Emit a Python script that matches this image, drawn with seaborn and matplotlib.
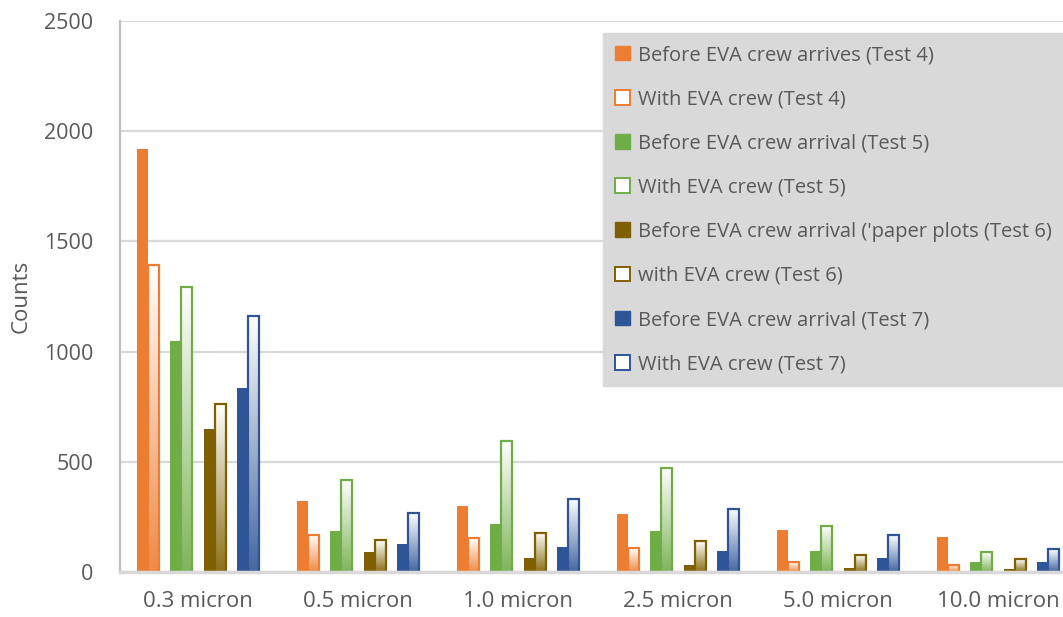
import numpy as np
import pandas as pd
import seaborn as sns
from matplotlib import pyplot as plt
from matplotlib.patches import Patch
from matplotlib.colors import to_rgb

sizes = ["0.3 micron", "0.5 micron", "1.0 micron", "2.5 micron", "5.0 micron", "10.0 micron"]
before_t4 = [1920, 324, 299, 262, 190, 160]
with_t4 = [1395, 166, 153, 107, 44, 32]
before_t5 = [1050, 186, 218, 185, 95, 44]
with_t5 = [1295, 416, 593, 472, 210, 89]
before_t6 = [650, 89, 62, 32, 20, 14]
with_t6 = [760, 145, 179, 139, 77, 58]
before_t7 = [835, 127, 115, 95, 64, 44]
with_t7 = [1160, 266, 331, 287, 166, 103]
empty = [0, 0, 0, 0, 0, 0]

# (label, values, colour, hollow); empty series keep Excel's gaps between pairs
series = [
    ("_gap0", empty, "#4472C4", False),
    ("Before EVA crew arrives (Test 4)", before_t4, "#ED7D31", False),
    ("With EVA crew (Test 4)", with_t4, "#ED7D31", True),
    ("_gap1", empty, "#A5A5A5", False),
    ("Before EVA crew arrival (Test 5)", before_t5, "#70AD47", False),
    ("With EVA crew (Test 5)", with_t5, "#70AD47", True),
    ("_gap2", empty, "#A5A5A5", False),
    ("Before EVA crew arrival ('paper plots (Test 6)", before_t6, "#7F6000", False),
    ("with EVA crew (Test 6)", with_t6, "#7F6000", True),
    ("_gap3", empty, "#5B9BD5", False),
    ("Before EVA crew arrival (Test 7)", before_t7, "#2F5597", False),
    ("With EVA crew (Test 7)", with_t7, "#2F5597", True),
    ("_gap4", empty, "#FFC000", False),
]

rows = []
for name, vals, col, hollow in series:
    for s, v in zip(sizes, vals):
        rows.append({"size": s, "series": name, "counts": v})
df = pd.DataFrame(rows)
order = [s[0] for s in series]
pal = {s[0]: s[2] for s in series}

sns.set_style("white")
plt.rcParams["font.family"] = ["Open Sans", "DejaVu Sans"]
txt = "#595959"

fig = plt.figure(figsize=(10.63, 6.17), dpi=100)
ax = fig.add_axes([120 / 1063, 45 / 617, 943 / 1063, 551 / 617])

sns.barplot(df, x="size", y="counts", hue="series", hue_order=order,
            palette=pal, width=0.894, gap=0, saturation=1, errorbar=None,
            legend=False, ax=ax, zorder=3)

xlim = (-0.4875, -0.4875 + 943 / 160)
ylim = (0, 2500)

for (name, vals, col, hollow), cont in zip(series, ax.containers):
    for p in cont.patches:
        if name.startswith("_gap"):
            p.set_visible(False)
            continue
        if not hollow:
            p.set_linewidth(0)
            continue
        p.set_facecolor("none")
        p.set_edgecolor(col)
        p.set_linewidth(1.6)
        x0, w, h = p.get_x(), p.get_width(), p.get_height()
        c = np.array(to_rgb(col))
        t = np.linspace(0, 0.9, 200)[:, None]
        img = (1 - t) * np.ones(3) + t * c
        img = img[:, None, :]
        im = ax.imshow(img, extent=[x0, x0 + w, 0, h], origin="upper",
                       aspect="auto", zorder=2.9, interpolation="bilinear")
        im.set_clip_path(p)

ax.set_xlim(*xlim)
ax.set_ylim(*ylim)
ax.set_yticks(range(0, 2501, 500))
ax.yaxis.grid(True, color="#D9D9D9", lw=1.6, zorder=0)
ax.set_axisbelow(True)
for side in ["top", "right"]:
    ax.spines[side].set_visible(False)
ax.spines["left"].set_color("#BFBFBF")
ax.spines["left"].set_linewidth(1.6)
ax.spines["bottom"].set_color("#D9D9D9")
ax.spines["bottom"].set_linewidth(2.5)
ax.spines["bottom"].set_zorder(4)
ax.tick_params(axis="both", length=0, labelcolor=txt)
ax.tick_params(axis="y", pad=19, labelsize=15.5)
ax.tick_params(axis="x", pad=14, labelsize=16)
ax.set_xlabel("")
ax.set_ylabel("Counts", fontsize=16, color=txt, labelpad=9)

handles, labels = [], []
for name, vals, col, hollow in series:
    if name.startswith("_gap"):
        continue
    if hollow:
        handles.append(Patch(facecolor="white", edgecolor=col, lw=1.4))
    else:
        handles.append(Patch(facecolor=col, edgecolor=col))
    labels.append(name)

leg = fig.legend(handles, labels, loc="upper left",
                 bbox_to_anchor=(603 / 1063, 1 - 33 / 617),
                 bbox_transform=fig.transFigure, frameon=True, fancybox=False,
                 fontsize=14.5, labelspacing=1.2, handlelength=0.75,
                 handleheight=0.75, handletextpad=0.4, borderpad=0.6,
                 borderaxespad=0)
leg.get_frame().set_facecolor("#D9D9D9")
leg.get_frame().set_edgecolor("#D9D9D9")
leg.get_frame().set_alpha(1)
for t_ in leg.get_texts():
    t_.set_color(txt)

fig.savefig("out.png", dpi=100)
